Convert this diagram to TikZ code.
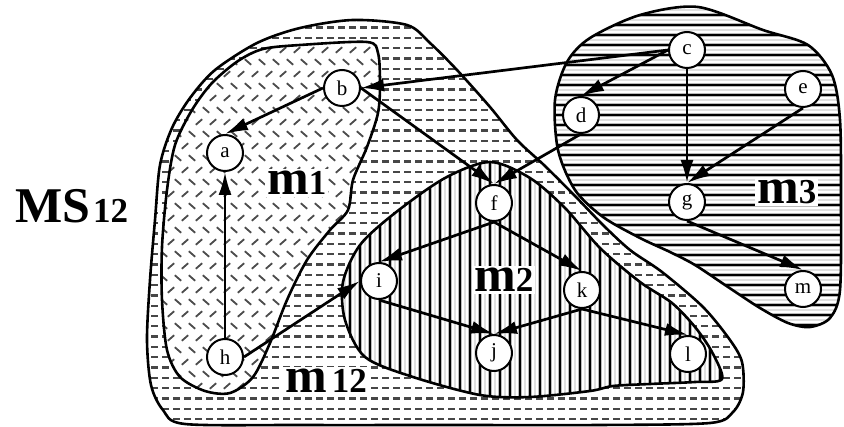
\documentclass[tikz,border=0pt]{standalone}
\usepackage{fontspec}
\setmainfont{Liberation Serif}
\usetikzlibrary{arrows.meta}
\newcommand\mysmall[1]{{\fontsize{35}{35}\selectfont #1}}
\def\pMtw{(353,20) (407,25) (430,43) (457,70) (490,107) (517,140) (545,166) (575,196) (603,225) (630,250) (662,272) (703,307) (730,340) (742,362) (743,392) (733,412) (710,423) (600,425) (450,425) (300,425) (185,424) (163,410) (151,385) (147,340) (150,280) (155,220) (160,165) (172,128) (190,98) (215,70) (257,43) (300,28)}
\def\pMone{(263,49) (300,45) (367,42) (378,53) (380,83) (378,113) (367,147) (353,180) (348,210) (330,230) (307,260) (287,300) (270,343) (253,377) (230,393) (205,391) (180,377) (167,350) (162,300) (162,247) (167,190) (175,145) (192,110) (212,83) (238,61)}
\def\pMtwo{(490,162) (530,178) (565,208) (600,248) (640,282) (672,303) (695,327) (712,352) (722,379) (695,382) (650,384) (613,386) (590,391) (530,397) (480,395) (413,377) (365,357) (345,320) (343,282) (360,245) (395,213) (445,178)}
\def\pMthree{(698,7) (763,30) (808,45) (832,75) (840,120) (841,200) (840,290) (830,318) (810,327) (788,323) (760,308) (728,287) (695,265) (670,252) (640,238) (603,217) (575,190) (558,150) (555,100) (567,62) (590,38) (640,15)}
\begin{document}
\begin{tikzpicture}[x=1pt,y=-1pt,
  vtx/.style={circle,draw,line width=2pt,fill=white,minimum size=36pt,inner sep=0pt,font=\fontsize{21}{21}\selectfont},
  arr/.style={line width=2.7pt,-{Latex[length=23pt,width=13pt]}},
  outline/.style={line width=2.6pt,line join=round},
  biglab/.style={fill=white,inner sep=2pt,anchor=base west,font=\fontsize{50}{50}\selectfont\bfseries},
  dashrow/.style={line width=2.3pt,black!72,dash pattern=on 7pt off 4pt},
  markone/.style={line width=1.8pt,black!70},
  stripedark/.style={line width=2.2pt,black},
  stripehalo/.style={line width=4.6pt,gray!55},
  stripelight/.style={line width=1.6pt,gray!25}
]
\useasboundingbox (0,0) rectangle (844,427);
\fill[white] (0,0) rectangle (844,427);

% m12 region
\begin{scope}
  \clip plot[smooth cycle] coordinates {\pMtw};
  \foreach \k in {0,...,40} {
    \draw[dashrow] (140,{419-10.3*\k}) -- (760,{419-10.3*\k});
  }
\end{scope}

% m1 region
\begin{scope}
  \fill[white] plot[smooth cycle] coordinates {\pMone};
  \clip plot[smooth cycle] coordinates {\pMone};
  \foreach \j in {0,...,30} {
    \foreach \i in {0,...,17} {
      \pgfmathsetmacro\xx{150+14*\i+7*mod(\j,2)}
      \pgfmathsetmacro\yy{38+12*\j}
      \pgfmathsetmacro\ss{1-2*mod(\j,2)}
      \draw[markone] (\xx-3.2,\yy-2.8*\ss) -- (\xx+3.2,\yy+2.8*\ss);
    }
  }
\end{scope}

% m2 region
\begin{scope}
  \fill[white] plot[smooth cycle] coordinates {\pMtwo};
  \clip plot[smooth cycle] coordinates {\pMtwo};
  \foreach \k in {0,...,39} {
    \draw[stripehalo] ({340+10*\k},150) -- ({340+10*\k},410);
    \draw[stripedark] ({340+10*\k},150) -- ({340+10*\k},410);
    \draw[stripelight] ({345+10*\k},150) -- ({345+10*\k},410);
  }
\end{scope}

% m3 region
\begin{scope}
  \clip plot[smooth cycle] coordinates {\pMthree};
  \foreach \k in {0,...,33} {
    \draw[stripehalo] (540,{5+10*\k}) -- (844,{5+10*\k});
    \draw[stripedark] (540,{5+10*\k}) -- (844,{5+10*\k});
    \draw[stripelight] (540,{10+10*\k}) -- (844,{10+10*\k});
  }
\end{scope}

% outlines
\draw[outline] plot[smooth cycle] coordinates {\pMtw};
\draw[outline] plot[smooth cycle] coordinates {\pMone};
\draw[outline] plot[smooth cycle] coordinates {\pMtwo};
\draw[outline] plot[smooth cycle] coordinates {\pMthree};

% region labels
\node[biglab] (lm1) at (265,195) {m\mysmall{1}};
\node[biglab] (lm2) at (472,292) {m\mysmall{2}};
\node[biglab] (lm3) at (755,204) {m\mysmall{3}};
\node[biglab] (lm12) at (283,393) {m\hspace{5pt}\mysmall{12}};
\node[biglab,fill=none] (lms) at (13,223) {MS\hspace{3pt}\mysmall{12}};

% vertices
\node[vtx] (a) at (225,153) {a};
\node[vtx] (b) at (342,88) {b};
\node[vtx] (c) at (687,50) {c};
\node[vtx] (d) at (581,115) {d};
\node[vtx] (e) at (803,89) {e};
\node[vtx] (f) at (494,203) {f};
\node[vtx] (g) at (687,202) {g};
\node[vtx] (h) at (225,357) {h};
\node[vtx] (i) at (379,281) {i};
\node[vtx] (j) at (494,353) {j};
\node[vtx] (k) at (582,290) {k};
\node[vtx] (l) at (688,354) {l};
\node[vtx] (m) at (803,289) {m};

% edges
\draw[arr] (c.west) -- (b.east);
\draw[arr] (c.west) -- (d.north);
\draw[arr] (c.south) -- (g.north);
\draw[arr] (e.south) -- (g.north);
\draw[arr] (d.south) -- (f.north);
\draw[arr] (b.east) -- (f.north);
\draw[arr] (b.west) -- (a.north);
\draw[arr] (h.north) -- (a.south);
\draw[arr] (h.east) -- (i.west);
\draw[arr] (f.south) -- (i.north);
\draw[arr] (f.south) -- (k.north);
\draw[arr] (i.south) -- (j.north);
\draw[arr] (k.south) -- (j.north);
\draw[arr] (k.south) -- (l.north);
\draw[arr] (g.south) -- (m.north);
\end{tikzpicture}
\end{document}
